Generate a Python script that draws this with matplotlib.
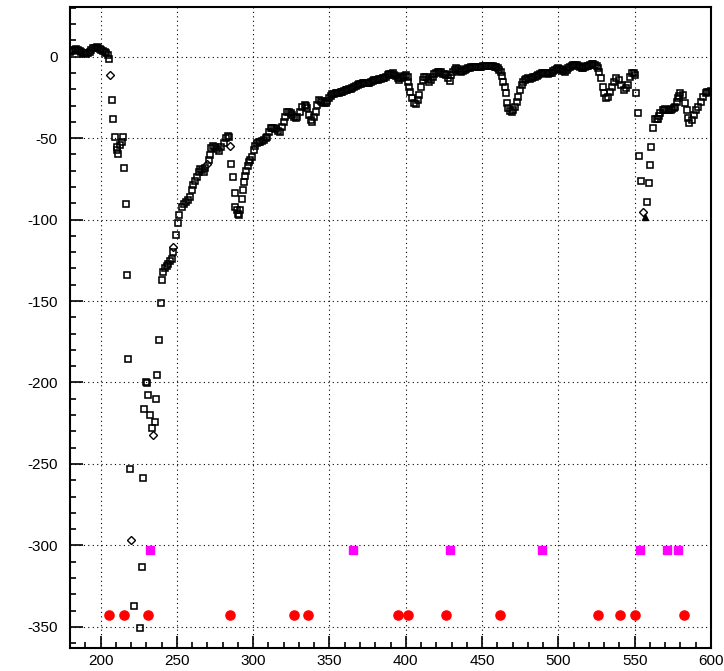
import matplotlib as mpl
mpl.use('Agg')
import matplotlib.pyplot as plt
from matplotlib.ticker import MultipleLocator
import numpy as np

mpl.rcParams['font.family'] = ['Liberation Sans', 'DejaVu Sans']
mpl.rcParams['axes.unicode_minus'] = False

# main scan (open squares)
scan_x = [179.8, 181, 182, 183, 184.2, 185.3, 186.4, 187.5, 188.6, 189.7, 190.8, 191.9,
          193, 194, 195.1, 196.3, 197.4, 198.5, 199.5, 200.6, 201.7, 202.8, 203.9, 204.8,
          205.7, 207.2, 208.3, 209.4, 210.5, 211, 211.6, 212.7, 213.8, 214.5, 215.3,
          216.6, 217.3, 218.2, 219.1, 221.7, 225.9, 227, 227.6, 228.5, 229.8, 230.3,
          231.3, 232.4, 233.5, 235.7, 236.4, 237.2, 238.6, 239.5, 240.5, 241.2, 242.3,
          243.4, 244.5, 245.6, 246.7, 247.2, 249.5, 251, 251.7, 253.3, 254.8, 256.2,
          257.6, 258.7, 259.9, 260.9, 262, 263.2, 264.2, 265.3, 266.4, 267.5, 268.6,
          270.8, 271.9, 272.4, 273.7, 275.2, 276.3, 277.8, 279.1, 280.7, 282.2, 283.3,
          284.2, 285.5, 286.8, 287.9, 288.4, 289.5, 290.2, 291, 291.6, 292.8, 293.4,
          293.8, 294.9, 295.6, 296.5, 297.3, 298.2, 299.3, 300.4, 301.5, 302.6, 303.7,
          304.8, 305.9, 307, 308.1, 309.2, 310.3, 311.4, 312.5, 313.6, 314.7, 316,
          317.5, 319.1, 320.1, 321.2, 322.4, 323.4, 324.5, 325.6, 326.7, 327.8, 329,
          330.7, 332.2, 333.7, 334.6, 335.5, 336.6, 337.7, 338.8, 339.9, 341, 342.1,
          343.2, 344.3, 345.4, 346.5, 347.6, 348.7, 349.7, 350.8, 351.9, 353, 354.1,
          355.2, 356.3, 357.4, 358.5, 359.6, 360.7, 361.8, 362.9, 364, 365.1, 366.2,
          367.3, 368.4, 369.5, 370.6, 371.7, 372.8, 373.9, 375, 376.1, 377.2, 378.3,
          379.4, 380.5, 381.5, 382.6, 383.7, 384.8, 385.9, 387, 388.1, 389.2, 390.3,
          391.4, 392.5, 393.6, 394.7, 395.8, 396.9, 398, 399.1, 400.2, 401.3, 401.7,
          402.4, 403, 404, 405.3, 406.8, 407.9, 409, 410.1, 411.2, 412.2, 413.4,
          414.5, 415.5, 416.6, 417.8, 418.8, 419.9, 421.1, 422.1, 423.2, 424.3, 425.4,
          426.5, 427.6, 428.7, 429.9, 430.9, 432, 433.1, 434.2, 435.3, 436.4, 437.5,
          438.6, 439.7, 440.8, 441.9, 443, 444, 445.1, 446.3, 447.4, 448.5, 449.5,
          450.6, 451.7, 452.8, 453.9, 455, 456.1, 457.2, 458.3, 459.4, 460.5, 461.4,
          462.2, 463.2, 463.8, 464.9, 465.5, 466.2, 467.1, 468.2, 469.3, 470.4, 471.4,
          472.6, 473.7, 474.7, 475.9, 477, 478, 479.1, 480.3, 481.3, 482.4, 483.5,
          484.6, 485.7, 486.8, 487.9, 489, 490.1, 491.2, 492.3, 493.4, 494.5, 495.6,
          496.7, 497.8, 498.9, 500, 501.1, 502.2, 503.3, 504.4, 505.5, 506.6, 507.7,
          508.8, 509.9, 511, 512.1, 513.2, 514.3, 515.3, 516.4, 517.5, 518.6, 519.7,
          520.8, 521.9, 523, 524.1, 525, 525.9, 526.7, 528, 529, 529.8, 531.1, 532.4,
          534, 535.1, 536.2, 537.7, 539.5, 541.2, 542.8, 544.3, 545.6, 547.2, 548.3,
          549.3, 550.4, 551.1, 552, 553.1, 554, 558.3, 559.2, 559.9, 561, 562.1,
          563.6, 564.5, 565.4, 566.2, 566.9, 568.4, 569.3, 570.1, 571.2, 572.4, 573.5,
          574.5, 575.6, 576.7, 577.6, 578.5, 579.2, 580, 581.6, 582.9, 584, 585.1,
          585.9, 587.3, 588.8, 590.3, 591.6, 593.2, 594.7, 596.4, 597.5, 598.7, 599.8]
scan_y = [3, 3.6, 4.1, 4.4, 4.5, 4.1, 3.7, 3.1, 2.5, 2, 1.7, 2.3,
          3.1, 4.2, 5.2, 5.6, 5.8, 5.2, 4.5, 4.1, 3.7, 2.9, 2.1, 0.8,
          -1.6, -26.6, -38.3, -49.5, -55.3, -57, -59.7, -54.2, -52.2, -49.5, -68.2,
          -90.4, -133.8, -185.6, -253.4, -337, -350.8, -313, -258.5, -216, -200, -200.5,
          -207.7, -220, -228, -224, -210.4, -195.4, -174, -151, -137, -132, -130,
          -128.5, -127, -125.5, -124.4, -119.7, -109.5, -102.3, -97.2, -92, -90.5, -89.5,
          -88, -86, -81.8, -78.8, -76.1, -73.7, -70.6, -69.1, -69.6, -70.6, -68.5,
          -63.4, -60.4, -56.2, -54.8, -55.3, -56.9, -57.7, -55.3, -52.8, -50.1, -48.7,
          -49, -65.9, -74, -83.5, -92, -94, -96.5, -97, -94, -87.6, -81.9,
          -77, -73.5, -70, -67, -64.5, -63.4, -61.4, -57.3, -55, -53.2, -52.5,
          -52.2, -52, -51.2, -50, -49.1, -46.5, -44, -43.5, -43.8, -44.5, -45.5,
          -46.4, -43, -39.9, -37, -33.8, -34, -34.8, -35.8, -36.8, -37.5, -37.2,
          -33.8, -30.7, -29.7, -30.5, -31.7, -35.8, -38.9, -39.9, -36.8, -33.8, -29.7,
          -26.6, -27, -27.6, -28.2, -28.6, -27, -25.6, -24.3, -23.1, -22.8, -22.5,
          -22.3, -22.1, -21.8, -21.5, -21, -20.4, -20.2, -20, -19.7, -19.4, -18.7,
          -18, -17.5, -17, -16.6, -16.3, -16.1, -16, -16, -16, -15.5, -14.9,
          -14.6, -14.3, -14.1, -13.9, -13.6, -13.3, -12.8, -12.3, -11.5, -10.6, -10.4,
          -10.2, -11, -11.9, -13, -14.3, -13.3, -12.3, -11.8, -11.2, -12.3, -15.3,
          -18.4, -21.5, -25.6, -28.6, -29, -26.6, -23.5, -18.4, -14.3, -12.7, -12.3,
          -13.9, -15.3, -14.3, -12.3, -10.6, -9.8, -9.2, -9.4, -9.5, -10.5, -10.4,
          -11.5, -13.3, -14.7, -11.2, -9.2, -8.2, -7.1, -7.7, -8.6, -9.2, -8.8,
          -8.2, -7.6, -7.1, -6.8, -6.5, -6.3, -6.1, -6.3, -6.5, -6.3, -6.1,
          -5.9, -5.7, -5.6, -5.5, -5.6, -5.7, -5.9, -6.1, -6.6, -7.1, -8,
          -9.2, -11.9, -15.3, -18.8, -22.5, -28.6, -31.7, -33.2, -33.8, -32.7, -30.7,
          -27.6, -24.6, -20.4, -17.4, -15.3, -14.3, -13.7, -13.3, -13.5, -13.1, -12.7,
          -12.3, -11.8, -11.2, -10.5, -9.8, -9.8, -9.8, -10.2, -10.6, -10.2, -9.8,
          -9, -8.2, -7.6, -7.1, -7.6, -8.2, -8.7, -9.2, -8.2, -7.1, -6.4,
          -5.7, -5.4, -5.1, -5.3, -5.5, -6.5, -7.2, -7, -6.5, -6, -5.5,
          -5, -4.5, -4.6, -5.1, -6, -7.1, -9.2, -13.3, -18.4, -22.5, -25.6, -24.6,
          -21.5, -18.4, -15.3, -13.3, -14.3, -17.4, -20.4, -19.4, -17.4, -12.3, -10.2,
          -9.8, -11.2, -22.1, -34.8, -61, -76.1, -89, -77.4, -66.5, -55.3, -44,
          -38.4, -38.5, -38.4, -36.5, -34.8, -32.7, -32.5, -32.3, -32.5, -32.7, -32.5,
          -32.3, -31.5, -30.7, -28, -25.6, -24, -22.5, -23.5, -28.6, -32.7, -37.8,
          -40.9, -38.9, -35.8, -32.7, -30.7, -27.6, -24.6, -22.1, -21.8, -21.5, -21.3]

# a few points drawn as open diamonds
diam_x = [206.1, 220.1, 234.6, 247.8, 269.7, 285.1, 555.3]
diam_y = [-11.2, -296.4, -232.3, -116.6, -65.9, -54.8, -95.2]

# filled triangle at the bottom of the 550 dip
tri_x = [556.6]
tri_y = [-98.2]

# red circles
red_x = [205.5, 215.3, 231.3, 284.6, 326.7, 335.9, 394.7, 401.6, 426.6, 461.8,
         525.9, 540.1, 550.0, 582.2]
red_y = [-343] * len(red_x)

# magenta squares
mag_x = [232.2, 365.6, 428.9, 489.0, 553.7, 571.2, 578.3]
mag_y = [-303] * len(mag_x)

fig = plt.figure(figsize=(7.24, 6.71), dpi=100)
ax = fig.add_axes([70/724, 23/671, 641/724, 641/671])

ax.plot(scan_x, scan_y, ls='none', marker='s', ms=4.0, mfc='none', mec='black', mew=1.15)
ax.plot(diam_x, diam_y, ls='none', marker='D', ms=3.8, mfc='none', mec='black', mew=1.0)
ax.plot(tri_x, tri_y, ls='none', marker='^', ms=4.5, color='black')
ax.plot(red_x, red_y, ls='none', marker='o', ms=6.6, color='#ff0000', mec='#ff0000')
ax.plot(mag_x, mag_y, ls='none', marker='s', ms=6.2, color='#ff00ff', mec='#ff00ff')

ax.set_xlim(180, 600)
ax.set_ylim(-363, 30.5)
ax.xaxis.set_major_locator(MultipleLocator(50))
ax.xaxis.set_minor_locator(MultipleLocator(10))
ax.yaxis.set_major_locator(MultipleLocator(50))
ax.yaxis.set_minor_locator(MultipleLocator(10))

ax.grid(True, which='major', color='black', linestyle=(0, (1, 3)), linewidth=0.8)
ax.tick_params(which='both', direction='in', top=False, right=False, width=1.2, colors='black')
ax.tick_params(which='major', length=9)
ax.tick_params(which='minor', length=4.5)
ax.tick_params(axis='y', which='major', pad=9, labelsize=11)
ax.tick_params(axis='x', which='major', pad=4, labelsize=11)
for s in ax.spines.values():
    s.set_linewidth(1.5)

plt.savefig('out.png', dpi=100)
plt.close()
